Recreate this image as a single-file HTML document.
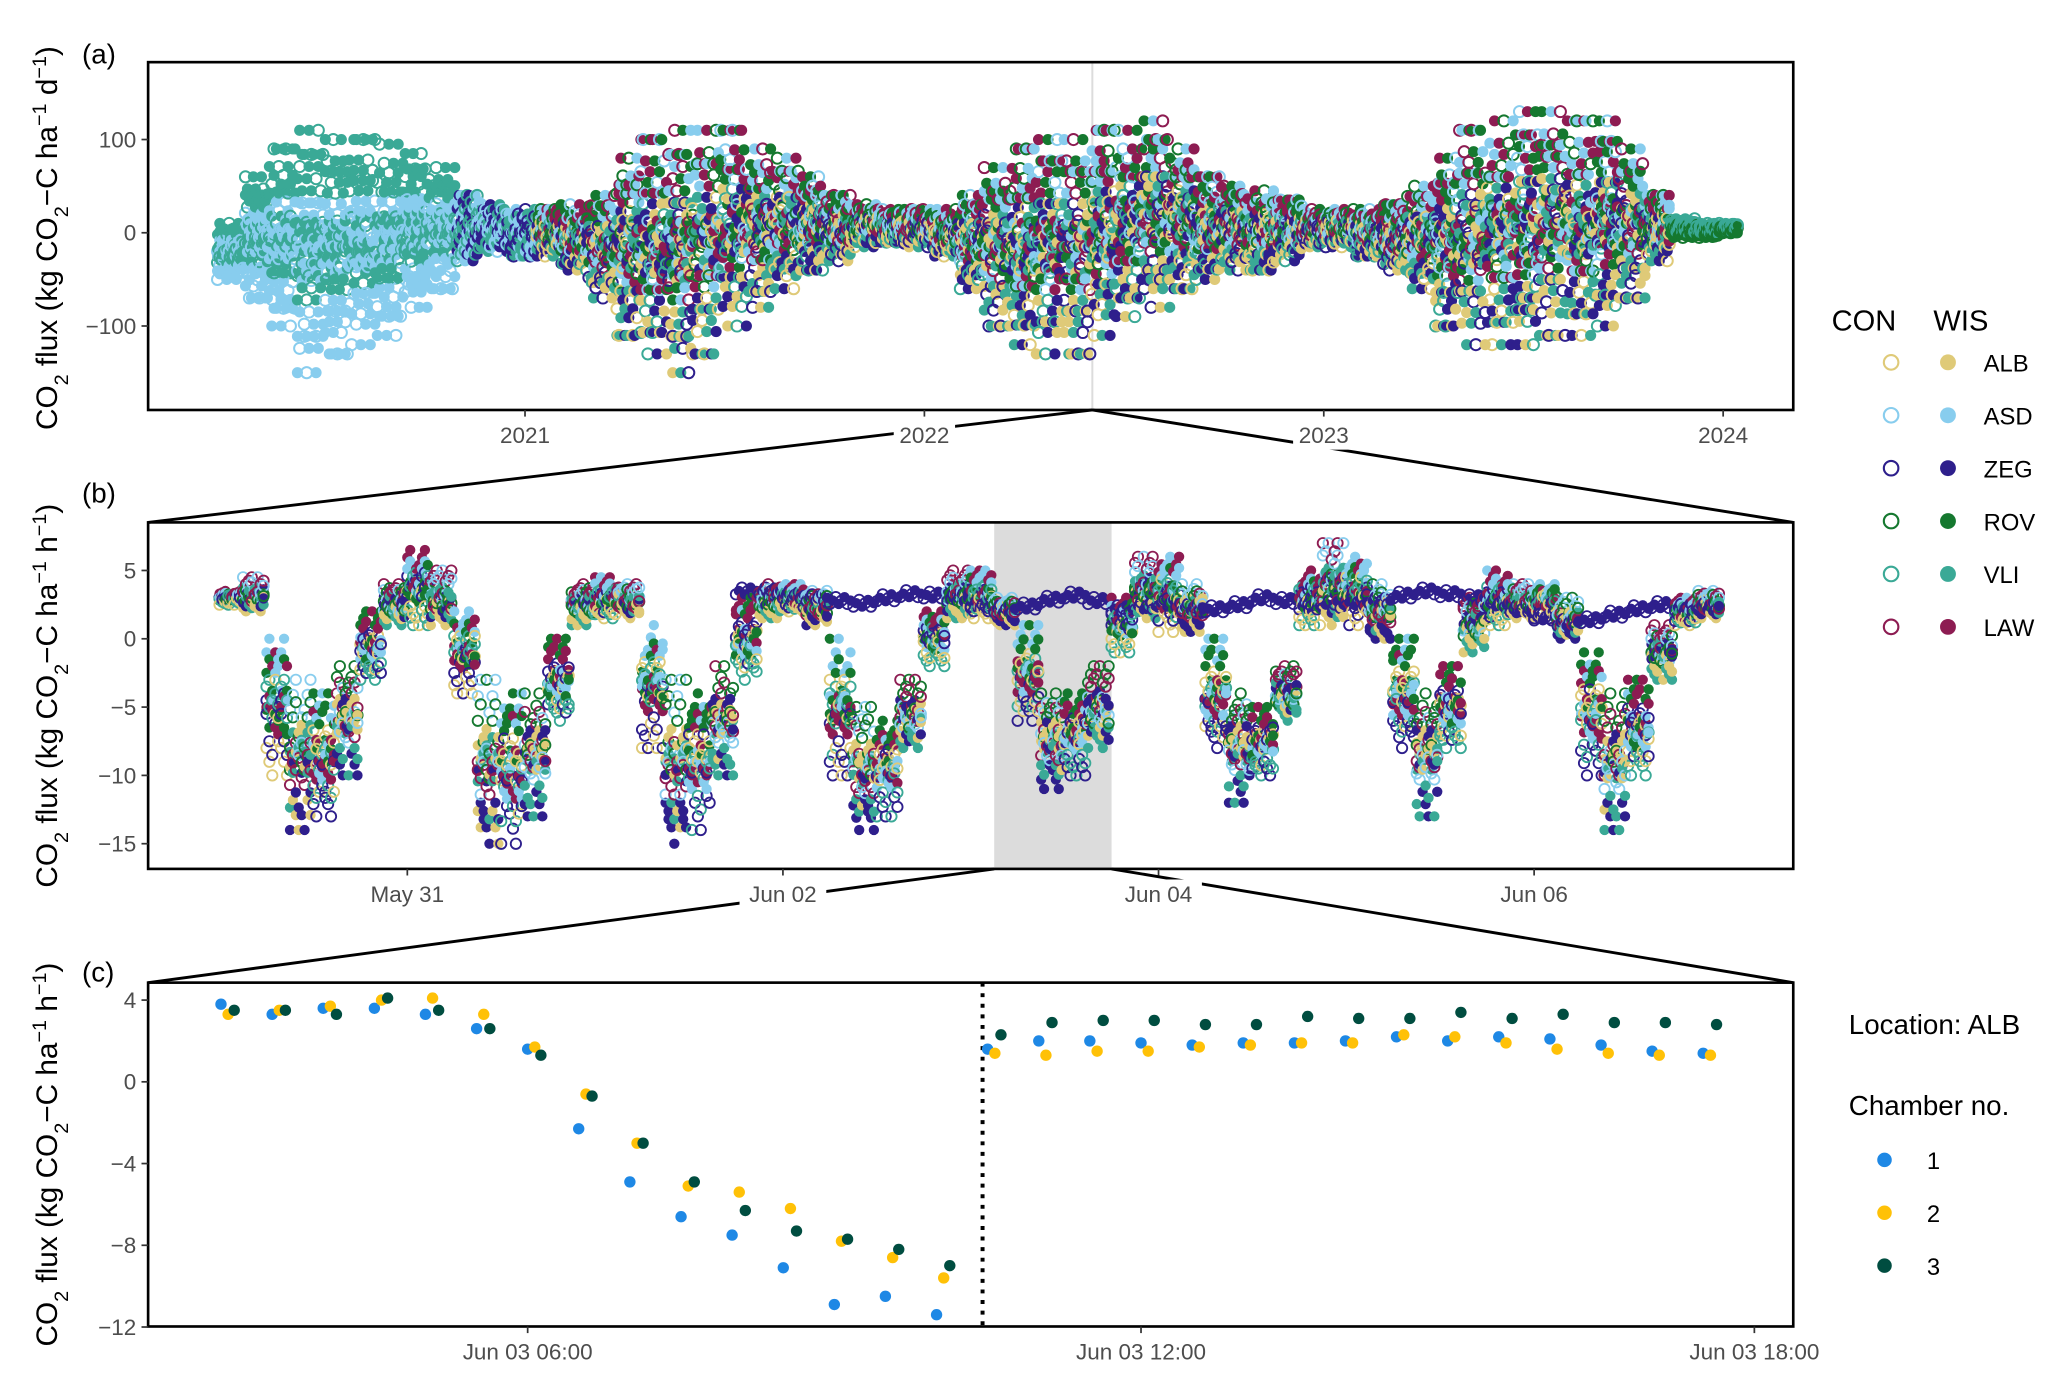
<!DOCTYPE html>
<html><head><meta charset="utf-8"><style>
html,body{margin:0;padding:0;background:#fff}
svg{display:block}
text{font-family:"Liberation Sans",Arial,sans-serif}
</style></head><body>
<svg id="fig" width="2067" height="1386" viewBox="0 0 1563 1048" preserveAspectRatio="none" xmlns="http://www.w3.org/2000/svg">
<defs>
<clipPath id="clipA"><rect x="112" y="47" width="1244" height="263"/></clipPath>
<clipPath id="clipB"><rect x="112" y="395" width="1244" height="262"/></clipPath>
<clipPath id="clipC"><rect x="112" y="743" width="1244" height="260"/></clipPath>
</defs>
<rect x="0" y="0" width="1563" height="1048" fill="#fff"/>
<g id="layer"></g>
</svg>
<script>
// ---------- DATA ----------
// Panel (a): daily flux envelope per time bin (decimal year), kg CO2-C ha-1 d-1
const aYears = [2020.23,2020.30,2020.36,2020.43,2020.50,2020.56,2020.63,2020.70,2020.76,2020.83,2020.89,2020.96,2021.03,2021.09,2021.16,2021.23,2021.29,2021.36,2021.42,2021.49,2021.56,2021.62,2021.69,2021.75,2021.82,2021.89,2021.95,2022.02,2022.09,2022.15,2022.22,2022.28,2022.35,2022.42,2022.48,2022.55,2022.62,2022.68,2022.75,2022.81,2022.88,2022.95,2023.01,2023.08,2023.15,2023.21,2023.28,2023.34,2023.41,2023.48,2023.54,2023.61,2023.68,2023.74,2023.81,2023.87,2023.94,2023.99];
const aHigh = [10,60,90,110,100,100,95,85,70,40,30,25,25,30,40,80,100,110,110,110,90,80,60,40,30,25,25,25,40,70,90,100,100,110,110,120,90,60,50,45,35,25,25,25,30,50,80,110,120,130,130,120,120,90,40,15,10,10];
const aLow = [-50,-70,-100,-150,-130,-120,-110,-80,-60,-30,-20,-25,-25,-40,-70,-110,-130,-150,-130,-100,-80,-60,-40,-30,-15,-10,-15,-25,-60,-100,-120,-130,-130,-110,-90,-80,-60,-50,-40,-40,-30,-15,-15,-25,-40,-60,-100,-120,-120,-120,-110,-110,-100,-70,-30,-5,-5,0];
const aYearTicks = [2021,2022,2023,2024];
const aYTicks = [100,0,-100];

// Panel (b): hourly flux envelope per 3-h bin (hours since May 30 00:00), kg CO2-C ha-1 h-1
const bHours = [0,3,6,9,12,15,18,21,24,27,30,33,36,39,42,45,48,51,54,57,60,63,66,69,72,75,78,81,84,87,90,93,96,99,102,105,108,111,114,117,120,123,126,129,132,135,138,141,144,147,150,153,156,159,162,165,168,171,174,177,180,183,186,189];
const bHigh = [3.5,4.5,0,-3,-4,-2,2,4, 6.5,5,2,-3,-4,-4,0,4, 4.5,4,1,-3,-4,-2,3,4, 4,3.5,0,-5,-6,-3,2,5, 5,3,1,-4,-4,-2,3,6, 6,4,0,-4,-5,-2,5,7, 6,4,0,-4,-2,3,5,4, 4,3,-1,-4,-3,1,3,3.5];
const bLow = [2.5,2,-10,-14,-13,-10,-3,1, 1,1,-4,-15,-15,-13,-6,1, 1.5,1.5,-8,-15,-14,-10,-3,1.5, 2,1,-10,-14,-13,-8,-2,1.5, 1.5,1,-6,-11,-10,-8,-1,1.5, 0.5,0.5,-8,-12,-10,-6,1,1, 1,0,-8,-13,-8,-1,1,1.5, 1.5,0,-10,-14,-10,-3,1,1.5];
// ZEG (WIS) band staying positive from Jun 01 evening onward
const bZeg = [null,null,null,null,null,null,null,null, null,null,null,null,null,null,null,null, null,null,null,null,null,null,3.5,3.5, 3.2,3,2.8,2.6,3,3.3,3.2,3, 2.5,2.2,2.4,2.9,3.2,2.8,2.2,2.4, 2.6,2.3,2.2,2.5,3,2.8,2.4,2.5, 2.7,2.8,3.2,3.5,3.3,3,2.6,2.2, 1.6,1.2,1.4,1.8,2.2,2.5,2.3,2.4];
const bDayTicks = ["May 31","Jun 02","Jun 04","Jun 06"];
const bDayTickHours = [24,72,120,168];
const bYTicks = [5,0,-5,-10,-15];
const bHighlightStart = 99, bHighlightEnd = 114;

// Panel (c): ALB chambers, hours since Jun 03 00:00
const cHours1 = [3,3.5,4,4.5,5,5.5,6,6.5,7,7.5,8,8.5,9,9.5,10,10.5,11,11.5,12,12.5,13,13.5,14,14.5,15,15.5,16,16.5,17,17.5];
const cFlux1 = [3.8,3.3,3.6,3.6,3.3,2.6,1.6,-2.3,-4.9,-6.6,-7.5,-9.1,-10.9,-10.5,-11.4,1.6,2.0,2.0,1.9,1.8,1.9,1.9,2.0,2.2,2.0,2.2,2.1,1.8,1.5,1.4];
const cHours2 = [3.07,3.57,4.07,4.57,5.07,5.57,6.07,6.57,7.07,7.57,8.07,8.57,9.07,9.57,10.07,10.57,11.07,11.57,12.07,12.57,13.07,13.57,14.07,14.57,15.07,15.57,16.07,16.57,17.07,17.57];
const cFlux2 = [3.3,3.5,3.7,4.0,4.1,3.3,1.7,-0.6,-3.0,-5.1,-5.4,-6.2,-7.8,-8.6,-9.6,1.4,1.3,1.5,1.5,1.7,1.8,1.9,1.9,2.3,2.2,1.9,1.6,1.4,1.3,1.3];
const cHours3 = [3.13,3.63,4.13,4.63,5.13,5.63,6.13,6.63,7.13,7.63,8.13,8.63,9.13,9.63,10.13,10.63,11.13,11.63,12.13,12.63,13.13,13.63,14.13,14.63,15.13,15.63,16.13,16.63,17.13,17.63];
const cFlux3 = [3.5,3.5,3.3,4.1,3.5,2.6,1.3,-0.7,-3.0,-4.9,-6.3,-7.3,-7.7,-8.2,-9.0,2.3,2.9,3.0,3.0,2.8,2.8,3.2,3.1,3.1,3.4,3.1,3.3,2.9,2.9,2.8];
const cXTicks = ["Jun 03 06:00","Jun 03 12:00","Jun 03 18:00"];
const cXTickHours = [6,12,18];
const cYTicks = [4,0,-4,-8,-12];
const cTreatmentHour = 10.45;

const siteNames = ["ALB","ASD","ZEG","ROV","VLI","LAW"];
const siteColors = ["#dfca78","#88cdee","#2e1f8c","#15782f","#3aa996","#8d1c52"];
const chamberColors = ["#1e88e5","#ffc107","#004d40"];

// ---------- SCALES ----------
const NS="http://www.w3.org/2000/svg";
const layer=document.getElementById('layer');
const axA={x:t=>397+(t-2021)*302, y:v=>176-v*0.705};
const axB={x:h=>166+h*5.917, y:v=>483-v*10.33};
const axC={x:h=>399+(h-6)*77.3, y:v=>818-v*15.45};
function mk(tag,attrs,parent){const e=document.createElementNS(NS,tag);for(const k in attrs)e.setAttribute(k,attrs[k]);(parent||layer).appendChild(e);return e;}
const pat=[0.5,0.45,0.55,0.4,0.6,0.48,0.52,0.35,0.65,0.3,0.7,0.5,0.42,0.58,0.2,0.8,0.1,0.9,0.0,1.0,0.45,0.55,0.25,0.75,0.15,0.85,0.38,0.62];

// ---------- PANEL A ----------
const gA=mk('g',{'clip-path':'url(#clipA)'});


mk('line',{x1:826,y1:47,x2:826,y2:310,stroke:'#dcdcdc','stroke-width':1.5},gA);
for(let i=0;i<aYears.length;i++){
  const x0=axA.x(aYears[i]);
  const x1=i<aYears.length-1?axA.x(aYears[i+1]):x0+15;
  const t=aYears[i];
  let sites = t<2020.8?[1,4]: t<2021.0?[4,1,2]: t>2023.82?[3,4]:[0,1,2,3,4,5];
  const cols=12;
  for(let c=0;c<cols;c++){
    const x=x0+(x1-x0)*c/cols;
    for(let k=0;k<9;k++){
      const f=pat[(c*7+k*3+i)%pat.length];
      const v=aLow[i]+(aHigh[i]-aLow[i])*f;
      const s=sites[(c+k+i)%sites.length];
      const open=((c+k)%3)===0;
      const el=mk('circle',{cx:x.toFixed(1),cy:axA.y(v).toFixed(1),r:4.2,fill:open?'none':siteColors[s],stroke:siteColors[s],'stroke-width':open?1.5:0},gA);
      
      
    }
  }
}

// ---------- PANEL B ----------
const gB=mk('g',{'clip-path':'url(#clipB)'});


const hl=mk('rect',{x:axB.x(bHighlightStart),y:395,width:axB.x(bHighlightEnd)-axB.x(bHighlightStart),height:262,fill:'#dcdcdc'},gB);


for(let i=0;i<bHours.length;i++){
  const x0=axB.x(bHours[i]);
  const x1=i<bHours.length-1?axB.x(bHours[i+1]):x0+17.75;
  const cols=8;
  for(let c=0;c<cols;c++){
    const x=x0+(x1-x0)*c/cols;
    for(let k=0;k<8;k++){
      const f=pat[(c*5+k*3+i)%pat.length];
      const v=bLow[i]+(bHigh[i]-bLow[i])*f;
      const s=(c+k+i)%6;
      const open=((c+k)%2)===0;
      const el=mk('circle',{cx:x.toFixed(1),cy:axB.y(v).toFixed(1),r:3.9,fill:open?'none':siteColors[s],stroke:siteColors[s],'stroke-width':open?1.4:0},gB);
      
      
    }
    if(bZeg[i]!==null){
      const el=mk('circle',{cx:x.toFixed(1),cy:axB.y(bZeg[i]+((c%3)-1)*0.25).toFixed(1),r:3.9,fill:c%2?siteColors[2]:'none',stroke:siteColors[2],'stroke-width':c%2?0:1.4},gB);
      
      
    }
  }
}

// ---------- PANEL C ----------
const gC=mk('g',{'clip-path':'url(#clipC)'});


const tl=mk('line',{x1:axC.x(cTreatmentHour),y1:743,x2:axC.x(cTreatmentHour),y2:1003,stroke:'#000','stroke-width':3,'stroke-dasharray':'3,5'},gC);


[[cHours1,cFlux1],[cHours2,cFlux2],[cHours3,cFlux3]].forEach((ser,si)=>{
  for(let j=0;j<ser[0].length;j++){
    const el=mk('circle',{cx:axC.x(ser[0][j]).toFixed(1),cy:axC.y(ser[1][j]).toFixed(1),r:4.3,fill:chamberColors[si]},gC);
    
    
  }
});

// ---------- CONNECTORS ----------
[[826,310,112,395],[826,310,1356,395],[axB.x(bHighlightStart),657,112,743],[axB.x(bHighlightEnd),657,1356,743]].forEach(l=>{
  const e=mk('line',{x1:l[0],y1:l[1],x2:l[2],y2:l[3],stroke:'#000','stroke-width':2.2});
  
  
});

// ---------- AXES ----------
function frame(y0,h,name){const r=mk('rect',{x:112,y:y0,width:1244,height:h,fill:'none',stroke:'#000','stroke-width':2});}
frame(47,263,'panel-a-frame');frame(395,262,'panel-b-frame');frame(743,260,'panel-c-frame');
function yTick(y,label,name){
  mk('line',{x1:107,y1:y,x2:112,y2:y,stroke:'#333','stroke-width':1.3});
  const t=mk('text',{x:103,y:y+6,'text-anchor':'end','font-size':17,fill:'#4d4d4d'});t.textContent=label;
  
}
function xTick(x,yb,label,name){
  mk('line',{x1:x,y1:yb,x2:x,y2:yb+5,stroke:'#333','stroke-width':1.3});
  const w=label.length*9.6+8;
  mk('rect',{x:x-w/2,y:yb+8,width:w,height:22,fill:'#fff'});
  const t=mk('text',{x:x,y:yb+25,'text-anchor':'middle','font-size':17,fill:'#4d4d4d'});t.textContent=label;
  
}
aYTicks.forEach(v=>yTick(axA.y(v),v<0?'\u2212'+(-v):''+v,'y-tick-label'));
aYearTicks.forEach(v=>xTick(axA.x(v),310,''+v,'x-tick-label'));
bYTicks.forEach(v=>yTick(axB.y(v),v<0?'\u2212'+(-v):''+v,'y-tick-label'));
bDayTicks.forEach((s,i)=>xTick(axB.x(bDayTickHours[i]),657,s,'x-tick-label'));
cYTicks.forEach(v=>yTick(axC.y(v),v<0?'\u2212'+(-v):''+v,'y-tick-label'));
cXTicks.forEach((s,i)=>xTick(axC.x(cXTickHours[i]),1003,s,'x-tick-label'));
</script>
<svg style="position:absolute;left:0;top:0" width="2067" height="1386" viewBox="0 0 1563 1048" preserveAspectRatio="none" xmlns="http://www.w3.org/2000/svg">
<g font-family="Liberation Sans, Arial, sans-serif" fill="#000">
<text x="62" y="48" font-size="21">(a)</text>
<text x="62" y="380" font-size="21">(b)</text>
<text x="62" y="742" font-size="21">(c)</text>
<text transform="translate(43,180) rotate(-90)" text-anchor="middle" font-size="22.5">CO<tspan baseline-shift="sub" font-size="15">2</tspan> flux (kg CO<tspan baseline-shift="sub" font-size="15">2</tspan>−C ha<tspan baseline-shift="super" font-size="15">−1</tspan> d<tspan baseline-shift="super" font-size="15">−1</tspan>)</text>
<text transform="translate(43,526) rotate(-90)" text-anchor="middle" font-size="22.5">CO<tspan baseline-shift="sub" font-size="15">2</tspan> flux (kg CO<tspan baseline-shift="sub" font-size="15">2</tspan>−C ha<tspan baseline-shift="super" font-size="15">−1</tspan> h<tspan baseline-shift="super" font-size="15">−1</tspan>)</text>
<text transform="translate(43,873) rotate(-90)" text-anchor="middle" font-size="22.5">CO<tspan baseline-shift="sub" font-size="15">2</tspan> flux (kg CO<tspan baseline-shift="sub" font-size="15">2</tspan>−C ha<tspan baseline-shift="super" font-size="15">−1</tspan> h<tspan baseline-shift="super" font-size="15">−1</tspan>)</text>
<text x="1385" y="250" font-size="22">CON</text>
<text x="1462" y="250" font-size="22">WIS</text>
<g><circle cx="1430" cy="274" r="5.5" fill="none" stroke="#dfca78" stroke-width="1.6"/><circle cx="1473" cy="274" r="6" fill="#dfca78"/><text x="1500" y="281" font-size="18">ALB</text></g>
<g><circle cx="1430" cy="314" r="5.5" fill="none" stroke="#88cdee" stroke-width="1.6"/><circle cx="1473" cy="314" r="6" fill="#88cdee"/><text x="1500" y="321" font-size="18">ASD</text></g>
<g><circle cx="1430" cy="354" r="5.5" fill="none" stroke="#2e1f8c" stroke-width="1.6"/><circle cx="1473" cy="354" r="6" fill="#2e1f8c"/><text x="1500" y="361" font-size="18">ZEG</text></g>
<g><circle cx="1430" cy="394" r="5.5" fill="none" stroke="#15782f" stroke-width="1.6"/><circle cx="1473" cy="394" r="6" fill="#15782f"/><text x="1500" y="401" font-size="18">ROV</text></g>
<g><circle cx="1430" cy="434" r="5.5" fill="none" stroke="#3aa996" stroke-width="1.6"/><circle cx="1473" cy="434" r="6" fill="#3aa996"/><text x="1500" y="441" font-size="18">VLI</text></g>
<g><circle cx="1430" cy="474" r="5.5" fill="none" stroke="#8d1c52" stroke-width="1.6"/><circle cx="1473" cy="474" r="6" fill="#8d1c52"/><text x="1500" y="481" font-size="18">LAW</text></g>
<text x="1398" y="782" font-size="21">Location: ALB</text>
<text x="1398" y="843" font-size="21">Chamber no.</text>
<g><circle cx="1425" cy="877" r="5.5" fill="#1e88e5"/><text x="1457" y="884" font-size="18">1</text></g>
<g><circle cx="1425" cy="917" r="5.5" fill="#ffc107"/><text x="1457" y="924" font-size="18">2</text></g>
<g><circle cx="1425" cy="957" r="5.5" fill="#004d40"/><text x="1457" y="964" font-size="18">3</text></g>
</g>
</svg>
</body></html>
